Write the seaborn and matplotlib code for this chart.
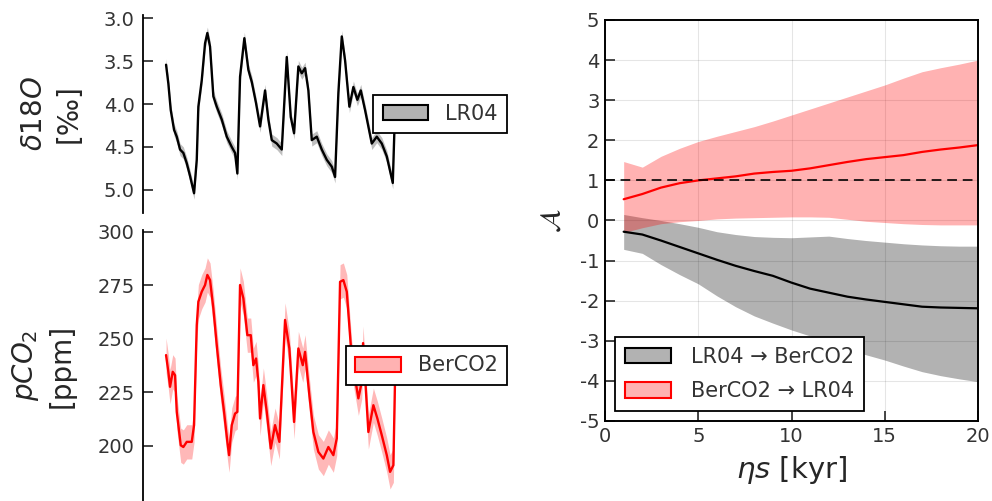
import numpy as np
import pandas as pd
import matplotlib
matplotlib.use("Agg")
import matplotlib.pyplot as plt
import seaborn as sns
from matplotlib.patches import Patch

# time series (age axis hidden in the figure)
age_d18o = [0, 2.3, 4.7, 8, 10.7, 14, 17.3, 20.7, 24, 28, 30.7, 32.3, 35.7, 39, 41.3,
            44, 47.3, 50.7, 55.7, 60.7, 65.7, 69, 71.3, 74, 78.3, 82.3, 85.7, 90, 94,
            99, 102.3, 105.7, 110.7, 115.7, 120.7, 124.7, 128, 132.3, 135.7, 139,
            142.3, 145.7, 150.7, 155.7, 160.7, 165.7, 169, 172.3, 175.7, 179, 183.3,
            187.3, 191.3, 194.7, 199, 205.7, 210.7, 215.7, 220.7, 226.7, 229]
d18o = [3.54, 3.76, 4.07, 4.30, 4.38, 4.53, 4.57, 4.69, 4.84, 5.04, 4.65, 4.03, 3.72,
        3.29, 3.17, 3.33, 3.91, 4.03, 4.18, 4.38, 4.50, 4.57, 4.81, 3.68, 3.23, 3.60,
        3.74, 3.99, 4.26, 3.84, 4.18, 4.42, 4.46, 4.53, 3.45, 4.15, 4.34, 3.56, 3.64,
        3.58, 3.84, 4.42, 4.38, 4.53, 4.65, 4.73, 4.85, 3.87, 3.21, 3.49, 4.03, 3.80,
        3.95, 3.84, 4.07, 4.46, 4.38, 4.46, 4.61, 4.92, 4.05]
d18o_err = 0.07

age_co2 = [0, 2.3, 4, 6.7, 9, 10.7, 12.3, 14.7, 17.3, 20.7, 25.7, 28, 30.7, 32.3,
           35.7, 39, 41.3, 44, 47.3, 50.7, 54.7, 58, 61.3, 63, 65.7, 69, 71.3, 74,
           77.3, 81.3, 84.7, 87.3, 90, 92.3, 94, 97.3, 100.7, 104.7, 109, 113.3, 119,
           123.3, 128, 132.3, 136.7, 139, 143.3, 147.3, 152.3, 157.3, 162.3, 167.3,
           170.7, 174, 177.3, 180.7, 185.7, 192.3, 195.7, 197, 202.3, 207.3, 211.3,
           215.7, 220.7, 224, 227.3, 229]
co2 = [242.4, 234.6, 227.6, 234.6, 233, 215.9, 209.7, 200.3, 199.5, 201.9, 201.9,
       209.7, 256.4, 267.3, 272, 275.1, 279.8, 277.4, 264.2, 247, 228.4, 215.9, 201.9,
       195.7, 209.7, 215.1, 215.9, 275.1, 268.9, 251.7, 251.7, 237.7, 240.8, 229.9,
       212.8, 228.4, 215.9, 198.8, 209.7, 201.9, 258.8, 245.5, 211.2, 245.5, 237.7,
       243.9, 223.7, 206.5, 197.2, 194.1, 199.5, 195.7, 203.5, 276.6, 277.4, 272,
       240.8, 222.2, 229.9, 248, 206.5, 219, 212.8, 205, 195.7, 187.9, 191, 232]
co2_err = 8

# lagged coupling vs. horizon
eta = list(range(1, 21))
lr_to_ber = [-0.28, -0.35, -0.50, -0.66, -0.82, -0.98, -1.13, -1.26, -1.38, -1.55,
             -1.70, -1.80, -1.90, -1.97, -2.03, -2.09, -2.15, -2.17, -2.18, -2.19]
lr_to_ber_hi = [0.15, 0.07, 0.0, -0.08, -0.17, -0.28, -0.35, -0.40, -0.42, -0.43,
                -0.41, -0.39, -0.45, -0.50, -0.54, -0.58, -0.61, -0.63, -0.64, -0.64]
lr_to_ber_lo = [-0.72, -0.82, -1.10, -1.35, -1.58, -1.88, -2.15, -2.38, -2.56, -2.73,
                -2.88, -3.08, -3.22, -3.35, -3.48, -3.63, -3.77, -3.87, -3.95, -4.02]
ber_to_lr = [0.53, 0.66, 0.82, 0.93, 1.00, 1.05, 1.10, 1.17, 1.21, 1.24,
             1.30, 1.38, 1.46, 1.53, 1.58, 1.63, 1.71, 1.77, 1.82, 1.88]
ber_to_lr_hi = [1.47, 1.33, 1.60, 1.80, 1.97, 2.10, 2.22, 2.34, 2.48, 2.63,
                2.78, 2.93, 3.08, 3.23, 3.38, 3.55, 3.71, 3.81, 3.90, 4.00]
ber_to_lr_lo = [-0.30, -0.18, -0.08, -0.03, 0.0, 0.04, 0.06, 0.07, 0.08, 0.09,
                0.09, 0.08, 0.03, -0.02, -0.05, -0.08, -0.10, -0.11, -0.11, -0.11]

sns.set_theme(style="white")
plt.rcParams['font.family'] = ['DejaVu Sans']
plt.rcParams['mathtext.fontset'] = 'dejavusans'
tick_col = "#333333"

fig = plt.figure(figsize=(9.92, 5.01), dpi=100)
ax1 = fig.add_axes([0.1442, 0.575, 0.369, 0.395])
ax2 = fig.add_axes([0.1442, 0.0, 0.369, 0.541])
ax3 = fig.add_axes([0.6099, 0.1597, 0.376, 0.8004])

df_d = pd.DataFrame({"age": age_d18o, "d18o": d18o})
df_c = pd.DataFrame({"age": age_co2, "co2": co2})

# top-left: d18O
ax1.fill_between(df_d["age"], df_d["d18o"] - d18o_err, df_d["d18o"] + d18o_err,
                 color="black", alpha=0.25, lw=0)
sns.lineplot(data=df_d, x="age", y="d18o", ax=ax1, color="black", lw=1.7,
             legend=False)
ax1.set_ylim(5.27, 2.96)
ax1.set_yticks([3.0, 3.5, 4.0, 4.5, 5.0])
ax1.set_ylabel("$\\delta 18O$\n[‰]", fontsize=20, labelpad=15, linespacing=1.3)

# bottom-left: CO2
ax2.fill_between(df_c["age"], df_c["co2"] - co2_err, df_c["co2"] + co2_err,
                 color="red", alpha=0.28, lw=0)
sns.lineplot(data=df_c, x="age", y="co2", ax=ax2, color="red", lw=1.7, legend=False)
ax2.set_ylim(174.3, 300.8)
ax2.set_yticks([200, 225, 250, 275, 300])
ax2.set_ylabel("$pCO_2$\n[ppm]", fontsize=20, labelpad=16, linespacing=1.3)

for ax, lab, fc, ec in [(ax1, "LR04", (0, 0, 0, 0.3), "black"),
                        (ax2, "BerCO2", (1, 0, 0, 0.3), "red")]:
    ax.set_xlim(-23, 343)
    ax.set_xlabel("")
    ax.set_xticks([])
    for s in ["top", "right", "bottom"]:
        ax.spines[s].set_visible(False)
    ax.spines["left"].set_color("black")
    ax.spines["left"].set_linewidth(1.3)
    ax.tick_params(axis="y", direction="in", length=7, width=1.2, left=True,
                   labelsize=14, labelcolor=tick_col, pad=6)
    ax.patch.set_alpha(0)
    leg = ax.legend(handles=[Patch(facecolor=fc, edgecolor=ec, lw=1.5, label=lab)],
                    loc="center right", fontsize=15, frameon=True, fancybox=False,
                    handlelength=2.2, handleheight=0.75, borderaxespad=0.1,
                    handletextpad=0.8, borderpad=0.45, framealpha=1)
    leg.get_frame().set_edgecolor("black")
    leg.get_frame().set_linewidth(1.3)
    for t in leg.get_texts():
        t.set_color(tick_col)

# right: coupling vs horizon
ax3.grid(True, color="#000000", alpha=0.1, lw=0.8)
ax3.fill_between(eta, lr_to_ber_lo, lr_to_ber_hi, color="black", alpha=0.3, lw=0)
ax3.fill_between(eta, ber_to_lr_lo, ber_to_lr_hi, color="red", alpha=0.3, lw=0)
sns.lineplot(x=eta, y=lr_to_ber, ax=ax3, color="black", lw=1.6)
sns.lineplot(x=eta, y=ber_to_lr, ax=ax3, color="red", lw=1.6)
ax3.axhline(1, color="black", ls=(0, (5, 3)), lw=1.4, alpha=0.85)
ax3.set_xlim(0, 20)
ax3.set_ylim(-5, 5)
ax3.set_xticks([0, 5, 10, 15, 20])
ax3.set_yticks(range(-5, 6))
ax3.set_yticklabels([str(v) for v in range(-5, 6)])
ax3.tick_params(direction="in", length=7, width=1.2, labelsize=14,
                labelcolor=tick_col, left=True, bottom=True, pad=4)
for s in ax3.spines.values():
    s.set_color("black")
    s.set_linewidth(1.4)
ax3.set_xlabel("$\\eta s$ [kyr]", fontsize=21, labelpad=6)
ax3.set_ylabel("$\\mathcal{A}$", fontsize=20, labelpad=10)
leg = ax3.legend(handles=[Patch(facecolor=(0, 0, 0, 0.3), edgecolor="black", lw=1.5,
                                label="LR04 → BerCO2"),
                          Patch(facecolor=(1, 0, 0, 0.3), edgecolor="red", lw=1.5,
                                label="BerCO2 → LR04")],
                 loc="lower left", fontsize=15, frameon=True, fancybox=False,
                 handlelength=2.2, handleheight=0.75, borderaxespad=0.5,
                 handletextpad=1.0, borderpad=0.45, labelspacing=0.7, framealpha=1)
leg.get_frame().set_edgecolor("black")
leg.get_frame().set_linewidth(1.3)
for t in leg.get_texts():
    t.set_color(tick_col)

fig.savefig("out.png", dpi=100)
